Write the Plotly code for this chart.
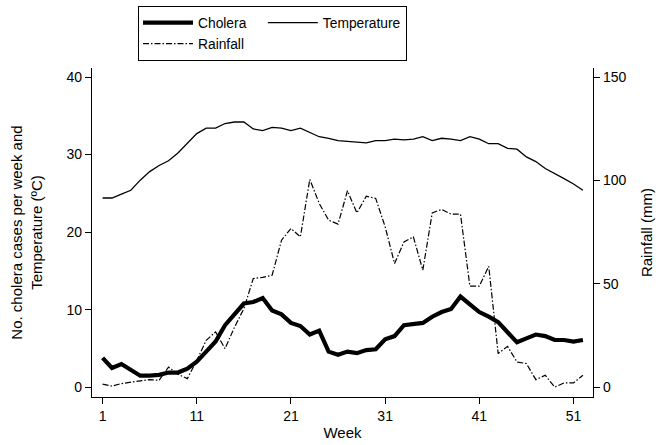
import plotly.graph_objects as go

weeks = list(range(1, 53))

cholera = [3.8, 2.5, 3.0, 2.2, 1.5, 1.5, 1.6, 1.9, 1.9, 2.4,
           3.3, 4.6, 5.9, 8.0, 9.5, 10.8, 11.0, 11.5, 9.9, 9.4,
           8.3, 7.9, 6.8, 7.3, 4.6, 4.2, 4.6, 4.4, 4.8, 4.9,
           6.2, 6.6, 8.0, 8.1, 8.3, 9.1, 9.7, 10.1, 11.7, 10.7,
           9.7, 9.1, 8.4, 7.1, 5.8, 6.3, 6.8, 6.6, 6.1, 6.1,
           5.9, 6.1]

temperature = [24.4, 24.4, 24.9, 25.4, 26.7, 27.8, 28.6, 29.2, 30.2, 31.4,
               32.7, 33.4, 33.4, 34.0, 34.2, 34.2, 33.3, 33.1, 33.5, 33.4,
               33.1, 33.4, 32.9, 32.3, 32.1, 31.8, 31.7, 31.6, 31.5, 31.8,
               31.8, 32.0, 31.9, 32.0, 32.3, 31.8, 32.1, 32.0, 31.8, 32.3,
               32.0, 31.4, 31.4, 30.8, 30.7, 29.7, 29.1, 28.2, 27.6, 26.9,
               26.2, 25.4]

rainfall = [1.5, 0.6, 1.8, 2.6, 3.1, 3.7, 3.4, 9.8, 6.3, 4.2,
            13.0, 22.7, 26.8, 18.7, 29.0, 38.0, 52.6, 53.1, 54.2, 71.1,
            76.8, 72.7, 100.5, 88.9, 80.8, 78.9, 95.0, 84.3, 92.4, 91.3,
            77.6, 59.8, 70.3, 72.7, 56.6, 84.3, 86.0, 83.7, 83.7, 48.9,
            48.9, 58.5, 16.3, 19.8, 12.2, 11.5, 3.7, 5.8, 0.1, 2.1,
            2.1, 5.8]

x_ticks = [1, 11, 21, 31, 41, 51]
left_ticks = [0, 10, 20, 30, 40]
right_ticks = [0, 50, 100, 150]

FONT = "Liberation Sans, Arial, sans-serif"
PAD = "\u00a0\u00a0\u00a0"

fig = go.Figure()
fig.add_trace(go.Scatter(
    x=weeks, y=cholera, name="Cholera" + PAD, mode="lines",
    line=dict(color="black", width=4.2), legendgroup="a"))
fig.add_trace(go.Scatter(
    x=weeks, y=temperature, name="Temperature", mode="lines",
    line=dict(color="black", width=1.3), legendgroup="b"))
fig.add_trace(go.Scatter(
    x=weeks, y=rainfall, name="Rainfall", mode="lines", yaxis="y2",
    line=dict(color="black", width=1.2, dash="6px,2px,1.5px,2px"),
    legendgroup="a"))

axis_common = dict(
    showline=True, linecolor="black", linewidth=1.3,
    ticks="outside", ticklen=6, tickwidth=1.3, tickcolor="black",
    showgrid=False, zeroline=False,
    tickfont=dict(family=FONT, size=14, color="black"),
)

fig.update_layout(
    width=660, height=445,
    margin=dict(l=92, r=67, t=68, b=48, autoexpand=False),
    paper_bgcolor="white", plot_bgcolor="white",
    font=dict(family=FONT, size=14, color="black"),
    showlegend=True,
    legend=dict(
        orientation="h", x=0.0918, xanchor="left", y=1.1886, yanchor="top",
        bordercolor="black", borderwidth=1.3, bgcolor="white",
        itemwidth=50,
        font=dict(family=FONT, size=13.8, color="black"),
        traceorder="grouped",
    ),
    xaxis=dict(
        range=[-0.124, 53.07], tickmode="array", tickvals=x_ticks,
        title=dict(text="Week", standoff=4, font=dict(family=FONT, size=15)),
        **axis_common),
    yaxis=dict(
        range=[-1.25, 41.16], tickmode="array", tickvals=left_ticks,
        title=dict(text="No. cholera cases per week and<br>Temperature (ºC)",
                   standoff=20, font=dict(family=FONT, size=15)),
        **axis_common),
    yaxis2=dict(
        range=[-4.69, 154.35], tickmode="array", tickvals=right_ticks,
        overlaying="y", side="right", anchor="x",
        title=dict(text="Rainfall (mm)", standoff=15, font=dict(family=FONT, size=15)),
        **axis_common),
)

fig.write_html("out.html", config={"displayModeBar": False},
               post_script="document.body.style.margin='0px';")
